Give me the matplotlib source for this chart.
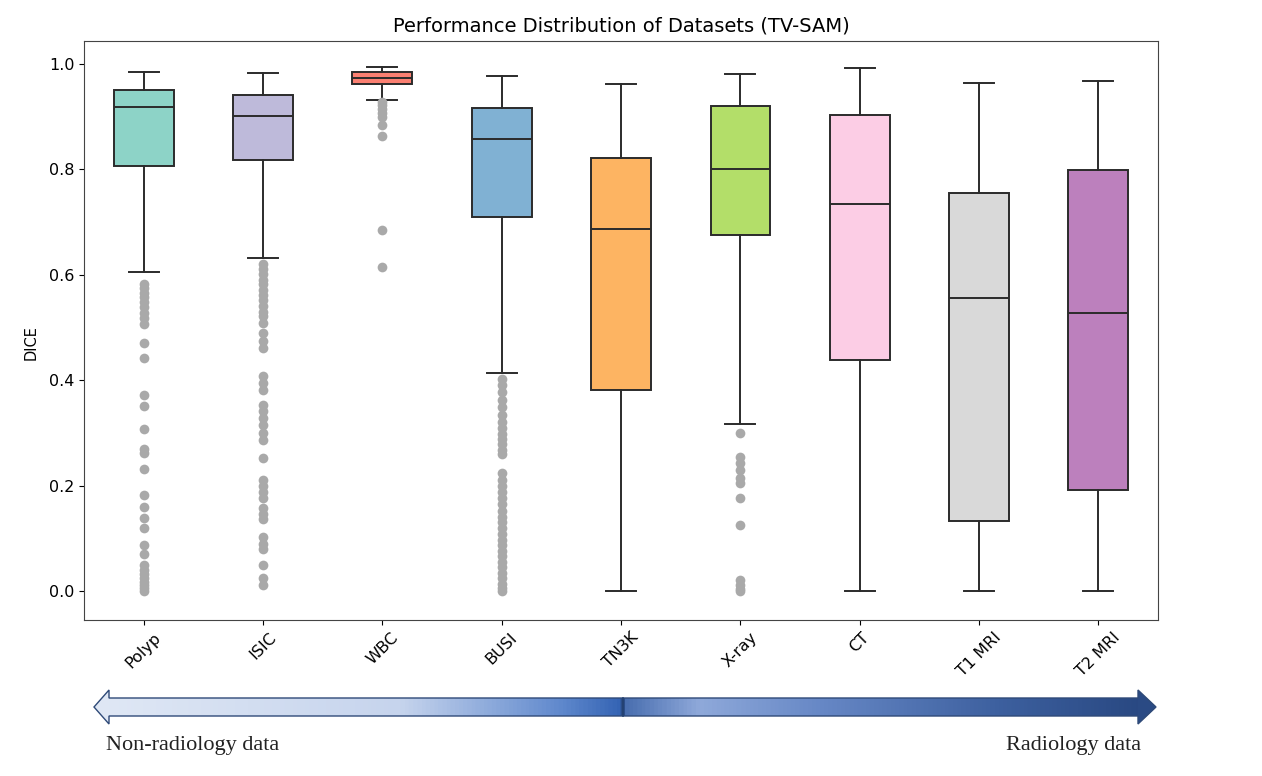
import numpy as np
import matplotlib
matplotlib.use("Agg")
import matplotlib.pyplot as plt
from matplotlib.colors import LinearSegmentedColormap
from matplotlib.patches import Polygon

# dataset names and box colours (Set3 without the yellow)
datasets = ["Polyp", "ISIC", "WBC", "BUSI", "TN3K", "X-ray", "CT", "T1 MRI", "T2 MRI"]
box_colors = ["#8dd3c7", "#bebada", "#fb8072", "#80b1d3", "#fdb462",
              "#b3de69", "#fccde5", "#d9d9d9", "#bc80bd"]

# box statistics
whishi = [0.984, 0.983, 0.993, 0.976, 0.962, 0.980, 0.991, 0.964, 0.967]
q3 = [0.951, 0.940, 0.984, 0.915, 0.822, 0.919, 0.902, 0.754, 0.799]
med = [0.918, 0.901, 0.973, 0.858, 0.686, 0.801, 0.734, 0.555, 0.528]
q1 = [0.806, 0.817, 0.962, 0.710, 0.381, 0.676, 0.439, 0.133, 0.191]
whislo = [0.605, 0.632, 0.932, 0.413, 0.0, 0.316, 0.0, 0.0, 0.0]

fliers_polyp = [0.583, 0.575, 0.566, 0.557, 0.548, 0.538, 0.528, 0.518, 0.507,
                0.471, 0.441, 0.372, 0.351, 0.308, 0.270, 0.261, 0.231, 0.182,
                0.160, 0.138, 0.119, 0.087, 0.071, 0.049, 0.040, 0.032, 0.025,
                0.018, 0.012, 0.006, 0.0]
fliers_isic = [0.620, 0.611, 0.601, 0.590, 0.582, 0.571, 0.562, 0.551, 0.541,
               0.530, 0.521, 0.509, 0.490, 0.475, 0.460, 0.408, 0.395, 0.381,
               0.353, 0.341, 0.328, 0.314, 0.299, 0.287, 0.253, 0.211, 0.200,
               0.188, 0.177, 0.158, 0.146, 0.136, 0.103, 0.090, 0.079, 0.049,
               0.025, 0.012]
fliers_wbc = [0.928, 0.921, 0.914, 0.907, 0.899, 0.883, 0.863, 0.684, 0.614]
fliers_busi = [0.402, 0.391, 0.377, 0.362, 0.348, 0.333, 0.321, 0.309, 0.298,
               0.288, 0.279, 0.268, 0.259, 0.223, 0.211, 0.199, 0.188, 0.176,
               0.165, 0.152, 0.141, 0.131, 0.119, 0.108, 0.097, 0.087, 0.076,
               0.066, 0.055, 0.045, 0.035, 0.024, 0.014, 0.006, 0.0]
fliers_xray = [0.299, 0.255, 0.242, 0.229, 0.215, 0.204, 0.176, 0.125,
               0.021, 0.012, 0.004, 0.0]
fliers = [fliers_polyp, fliers_isic, fliers_wbc, fliers_busi, [],
          fliers_xray, [], [], []]

# arrow gradient stops (pixel x, colour)
grad_x = [93, 400, 560, 620, 623, 627, 700, 820, 1000, 1157]
grad_c = ["#e0e8f5", "#c6d4ed", "#6089cd", "#3564b4", "#2b4d88", "#4a6fb0",
          "#8fa9da", "#6788c6", "#3d609f", "#27467f"]

W, H = 1262, 776
fig = plt.figure(figsize=(W / 100, H / 100), dpi=100)
ax = fig.add_axes([84 / W, 1 - 620 / H, (1158 - 84) / W, (620 - 41) / H])

stats = []
for i in range(len(datasets)):
    stats.append({"label": datasets[i], "whishi": whishi[i], "q3": q3[i],
                  "med": med[i], "q1": q1[i], "whislo": whislo[i],
                  "fliers": fliers[i]})

lc = "#2b2b2b"
bp = ax.bxp(stats, positions=range(1, len(datasets) + 1), widths=0.5,
            patch_artist=True,
            boxprops=dict(edgecolor=lc, linewidth=1.4),
            medianprops=dict(color=lc, linewidth=1.4),
            whiskerprops=dict(color=lc, linewidth=1.4),
            capprops=dict(color=lc, linewidth=1.4),
            flierprops=dict(marker="o", markerfacecolor="#a9a9a9",
                            markeredgecolor="none", markersize=7))
for patch, c in zip(bp["boxes"], box_colors):
    patch.set_facecolor(c)

ax.set_xlim(0.5, 9.5)
ax.set_ylim(-0.055, 1.043)
ax.set_title("Performance Distribution of Datasets (TV-SAM)", fontsize=14, pad=7)
ax.set_ylabel("DICE", fontsize=10.5)
ax.yaxis.set_label_coords(-0.042, 0.48)
ax.tick_params(labelsize=11.5)
plt.setp(ax.get_xticklabels(), rotation=45)
for s in ax.spines.values():
    s.set_color("#444444")

# gradient arrow underneath, in pixel coordinates
ax2 = fig.add_axes([0, 0, 1, 1], facecolor="none")
ax2.set_xlim(0, W)
ax2.set_ylim(H, 0)
ax2.axis("off")

yc = 707
shaft = 9
head = 17
x0, x1 = 94, 1156
hb0, hb1 = 109, 1138
arrow_pts = [(x0, yc), (hb0, yc - head), (hb0, yc - shaft), (hb1, yc - shaft),
             (hb1, yc - head), (x1, yc), (hb1, yc + head), (hb1, yc + shaft),
             (hb0, yc + shaft), (hb0, yc + head)]

pos = [(x - grad_x[0]) / (grad_x[-1] - grad_x[0]) for x in grad_x]
cmap = LinearSegmentedColormap.from_list("arrow", list(zip(pos, grad_c)))
grad = np.linspace(0, 1, 1200).reshape(1, -1)
clip = Polygon(arrow_pts, closed=True, facecolor="none", transform=ax2.transData)
ax2.add_patch(clip)
im = ax2.imshow(grad, cmap=cmap, aspect="auto",
                extent=[grad_x[0], grad_x[-1], yc + head, yc - head])
im.set_clip_path(clip)
# lighter left head, darker right head
ax2.add_patch(Polygon([(x0, yc), (hb0, yc - head), (hb0, yc + head)],
                      closed=True, facecolor="#dfe7f4", edgecolor="none"))
ax2.add_patch(Polygon([(x1, yc), (hb1, yc - head), (hb1, yc + head)],
                      closed=True, facecolor="#2a4a84", edgecolor="none"))
ax2.add_patch(Polygon(arrow_pts, closed=True, facecolor="none",
                      edgecolor="#2f4a78", linewidth=1.0))
ax2.plot([623, 623], [yc - shaft, yc + shaft], color="#23406f", linewidth=1.2)
ax2.set_xlim(0, W)
ax2.set_ylim(H, 0)

ax2.text(106, 750, "Non-radiology data", fontsize=16, family="Liberation Serif",
         va="baseline", ha="left", color="#222222")
ax2.text(1141, 750, "Radiology data", fontsize=16, family="Liberation Serif",
         va="baseline", ha="right", color="#222222")

fig.savefig("out.png", dpi=100)
